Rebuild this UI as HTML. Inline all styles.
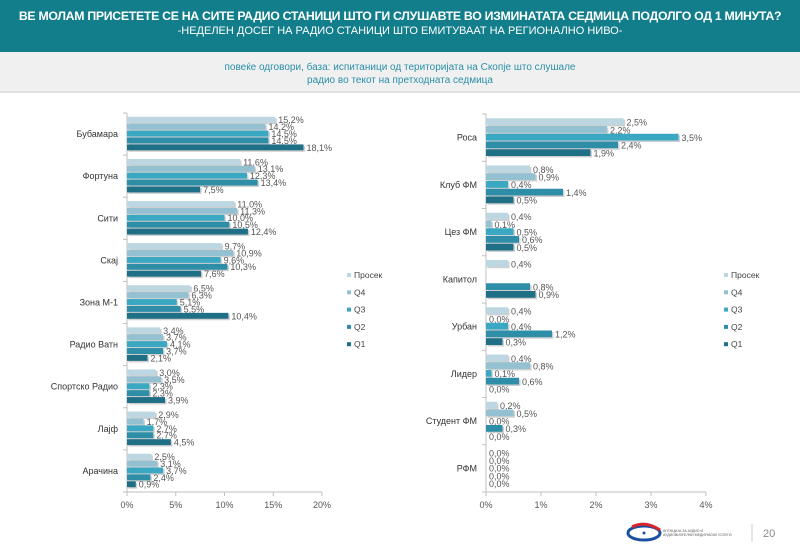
<!DOCTYPE html>
<html><head><meta charset="utf-8"><style>
body{margin:0;width:800px;height:554px;overflow:hidden;background:#fff;font-family:"Liberation Sans","DejaVu Sans",sans-serif;position:relative}
#hdr{position:absolute;left:0;top:0;width:800px;height:52px;background:#137e8b;color:#fff;text-align:center}
#t1{font-weight:bold;font-size:12.3px;padding-top:9px;letter-spacing:-0.3px}
#t2{font-size:11px;margin-top:2px}
#sub{position:absolute;left:0;top:52px;width:800px;height:41px;background:#f0f0f0;border-bottom:2px solid #e0e0e0;color:#2a8fa8;font-size:10px;text-align:center;line-height:13px;padding-top:9px;box-sizing:border-box}
svg{position:absolute;left:0;top:0}
</style></head><body>
<div id="hdr">
<div id="t1">ВЕ МОЛАМ ПРИСЕТЕТЕ СЕ НА СИТЕ РАДИО СТАНИЦИ ШТО ГИ СЛУШАВТЕ ВО ИЗМИНАТАТА СЕДМИЦА ПОДОЛГО ОД 1 МИНУТА?</div>
<div id="t2">-НЕДЕЛЕН ДОСЕГ НА РАДИО СТАНИЦИ ШТО ЕМИТУВААТ НА РЕГИОНАЛНО НИВО-</div>
</div>
<div id="sub">повеќе одговори, база: испитаници од територијата на Скопје што слушале<br>радио во текот на претходната седмица</div>
<svg id="svg" width="800" height="554"></svg>
<script>
const seriesNames=["Просек","Q4","Q3","Q2","Q1"];
const colors=["#bcd7e1","#93c1d2","#3aa8c3","#2e8ea7","#1f6f87"];
const leftCats=["Бубамара","Фортуна","Сити","Скај","Зона М-1","Радио Ватн","Спортско Радио","Лајф","Арачина"];
const leftProsek=[15.2,11.6,11.0,9.7,6.5,3.4,3.0,2.9,2.5];
const leftQ4=[14.2,13.1,11.3,10.9,6.3,3.7,3.5,1.7,3.1];
const leftQ3=[14.5,12.3,10.0,9.6,5.1,4.1,2.3,2.7,3.7];
const leftQ2=[14.5,13.4,10.5,10.3,5.5,3.7,2.3,2.7,2.4];
const leftQ1=[18.1,7.5,12.4,7.6,10.4,2.1,3.9,4.5,0.9];
const leftTicks=[0,5,10,15,20];
const rightCats=["Роса","Клуб ФМ","Цез ФМ","Капитол","Урбан","Лидер","Студент ФМ","РФМ"];
const rightProsek=[2.5,0.8,0.4,0.4,0.4,0.4,0.2,0.0];
const rightQ4=[2.2,0.9,0.1,null,0.0,0.8,0.5,0.0];
const rightQ3=[3.5,0.4,0.5,null,0.4,0.1,0.0,0.0];
const rightQ2=[2.4,1.4,0.6,0.8,1.2,0.6,0.3,0.0];
const rightQ1=[1.9,0.5,0.5,0.9,0.3,0.0,0.0,0.0];
const rightTicks=[0,1,2,3,4];
const svg=document.getElementById('svg');
const NS="http://www.w3.org/2000/svg";
function mk(tag,attrs,parent){const e=document.createElementNS(NS,tag);for(const k in attrs)e.setAttribute(k,attrs[k]);(parent||svg).appendChild(e);return e;}
function fmt(v){return v.toFixed(1).replace('.',',')+'%';}
function chart(cfg){
  const g=mk('g',{});
  
  
  const xs=v=>cfg.x0+(v/cfg.max)*(cfg.x1-cfg.x0);
  const n=cfg.cats.length, gh=(cfg.yb-cfg.yt)/n;
  const ax=mk('line',{x1:cfg.x0,y1:cfg.yt,x2:cfg.x0,y2:cfg.yb,stroke:'#bfbfbf'},g);
  
  const bx=mk('line',{x1:cfg.x0,y1:cfg.yb,x2:cfg.x1,y2:cfg.yb,stroke:'#bfbfbf'},g);
  
  for(let i=0;i<=n;i++){mk('line',{x1:cfg.x0-4,x2:cfg.x0,y1:cfg.yt+i*gh,y2:cfg.yt+i*gh,stroke:'#bfbfbf'},g);}
  cfg.ticks.forEach(t=>{
    mk('line',{x1:xs(t),x2:xs(t),y1:cfg.yb,y2:cfg.yb+4,stroke:'#bfbfbf'},g);
    const tl=mk('text',{x:xs(t),y:cfg.yb+16,'font-size':9,'text-anchor':'middle',fill:'#555'},g);
    tl.textContent=t+'%';
    
  });
  const bh=gh*0.82/5;
  cfg.cats.forEach((c,i)=>{
    const top=cfg.yt+i*gh+gh*0.09;
    const lb=mk('text',{x:cfg.x0-9,y:cfg.yt+i*gh+gh/2+3,'font-size':9,'text-anchor':'end',fill:'#333'},g);
    lb.textContent=c;
    
    cfg.series.forEach((s,j)=>{
      const v=s[i]; if(v===null) return;
      const y=top+j*bh, w=xs(v)-cfg.x0;
      mk('rect',{x:cfg.x0+1.5,y:y+1.5,width:Math.max(w,0),height:bh-1,fill:'#d0d0d0'},g);
      const r=mk('rect',{x:cfg.x0,y:y,width:Math.max(w,0),height:bh-1,fill:colors[j]},g);
      
      const t=mk('text',{x:xs(v)+3,y:y+bh-0.5,'font-size':9,fill:'#555'},g);
      t.textContent=fmt(v);
      
    });
  });
  seriesNames.forEach((s,j)=>{
    const y=cfg.ly+j*17.3;
    const sq=mk('rect',{x:cfg.lx,y:y-5,width:4,height:4,fill:colors[j]},g);
    
    const t=mk('text',{x:cfg.lx+7,y:y,'font-size':8.5,fill:'#444'},g);
    t.textContent=s;
    
  });
}
chart({name:'left-chart',cats:leftCats,series:[leftProsek,leftQ4,leftQ3,leftQ2,leftQ1],ticks:leftTicks,max:20,x0:127,x1:322,yt:113,yb:492,lx:347,ly:278});
chart({name:'right-chart',cats:rightCats,series:[rightProsek,rightQ4,rightQ3,rightQ2,rightQ1],ticks:rightTicks,max:4,x0:486,x1:706,yt:114,yb:492,lx:724,ly:278});
const lg=mk('g',{});

mk('ellipse',{cx:644,cy:533,rx:16,ry:7,fill:'none',stroke:'#1a4fa0','stroke-width':3},lg);
mk('path',{d:'M632 527 Q645 520 660 530',fill:'none',stroke:'#d8262f','stroke-width':3},lg);
mk('circle',{cx:644,cy:533,r:1.5,fill:'#1a4fa0'},lg);
const lt=mk('text',{x:663,y:532,'font-size':3.5,fill:'#555'},lg);lt.textContent='АГЕНЦИЈА ЗА АУДИО И';
const lt2=mk('text',{x:663,y:536,'font-size':3.5,fill:'#555'},lg);lt2.textContent='АУДИОВИЗУЕЛНИ МЕДИУМСКИ УСЛУГИ';
mk('line',{x1:752,x2:752,y1:524,y2:542,stroke:'#bcd0e0'});
const pn=mk('text',{x:763,y:537,'font-size':11,fill:'#888'});pn.textContent='20';

</script>
</body></html>
